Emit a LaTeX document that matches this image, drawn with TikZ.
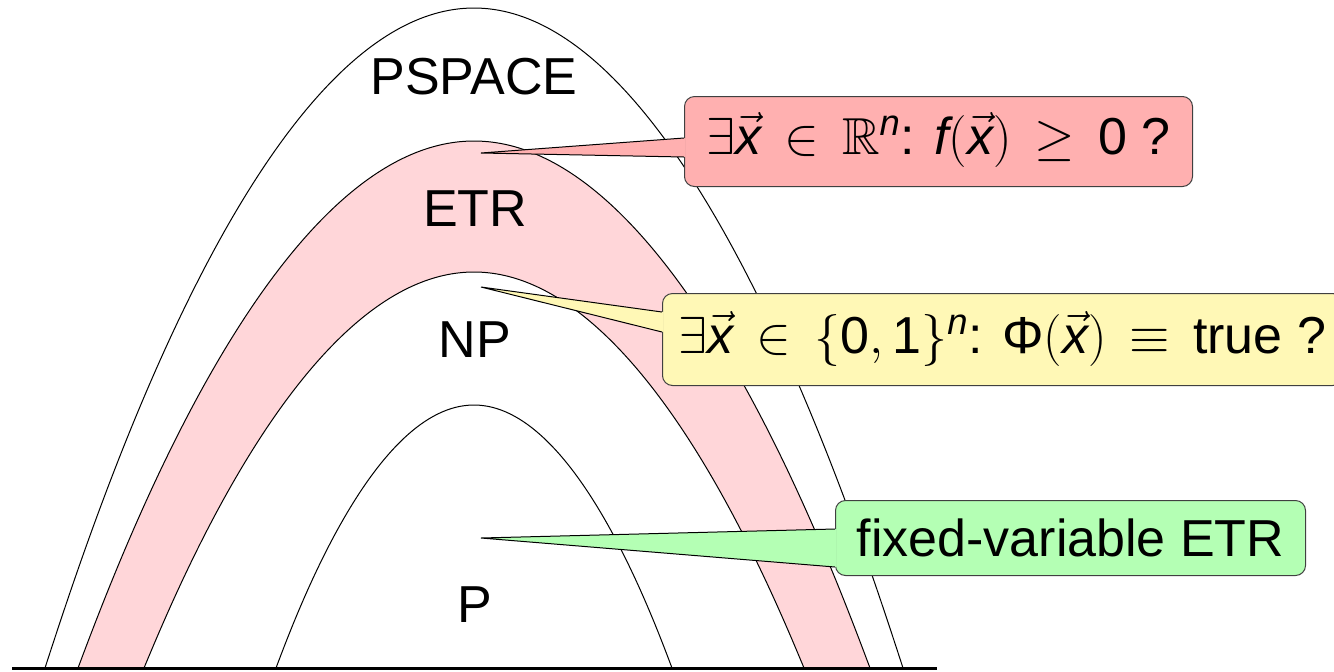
\RequirePackage{fix-cm}
\documentclass[tikz,border=0pt]{standalone}
\usepackage{amsmath,amssymb}
\usepackage{fontspec}
\setmainfont{Liberation Sans}
\setsansfont{Liberation Sans}
\usetikzlibrary{calc}
\definecolor{etrpink}{RGB}{255,214,217}
\definecolor{redbox}{RGB}{255,176,176}
\definecolor{yellowbox}{RGB}{255,248,182}
\definecolor{greenbox}{RGB}{180,255,180}
\begin{document}
\begin{tikzpicture}[x=0.5pt,y=-0.5pt,
  font=\fontsize{26}{31}\selectfont,
  arch/.style={draw=black, line width=0.5pt},
  classlabel/.style={anchor=base, inner sep=0pt},
  callbox/.style={draw=black!75, line width=0.5pt, rounded corners=5pt, inner sep=0pt, anchor=north west, align=center,
    execute at begin node={\thickmuskip=8mu plus 2mu}},
  pointer/.style={draw=black, line width=0.5pt}]
\useasboundingbox (0,0) rectangle (1334,671);
% arches
\draw[arch, fill=white] (45,668) parabola bend (474,8) (903,668);
\draw[arch, fill=etrpink] (78,668) parabola bend (474,141) (870,668);
\draw[arch, fill=white] (144,668) parabola bend (474,272) (804,668);
\draw[arch] (276,668) parabola bend (474,405) (672,668);
% ground line
\coordinate (gl) at (12,668.5);
\coordinate (gr) at (937,668.5);
\draw[line width=1.6pt] (gl) -- (gr);
% class labels
\node[classlabel] (pspace) at (474,94) {PSPACE};
\node[classlabel] (etr) at (475,226) {ETR};
\node[classlabel] (np) at (475,357) {NP};
\node[classlabel] (p) at (475,622) {P};
% callout boxes
\node[callbox, fill=redbox, minimum width=254pt, text height=29pt, text depth=16pt] (red) at (684,96)
  {$\exists\vec{\mathit{x}}\in\mathbb{R}^{\mathit{n}}$: $\mathit{f}(\vec{\mathit{x}})\geq\textrm{0}$ ?};
\node[callbox, fill=yellowbox, minimum width=340pt, text height=30pt, text depth=16pt] (yel) at (662,293)
  {$\exists\vec{\mathit{x}}\in\{\textrm{0},\textrm{1}\}^{\mathit{n}}$: $\textrm{Φ}(\vec{\mathit{x}})\equiv\textrm{true}$ ?};
\node[callbox, fill=greenbox, minimum width=235pt, text height=28pt, text depth=9.5pt] (grn) at (835,500)
  {fixed-variable ETR};
% pointer tips
\coordinate (tipR) at (481,153);
\coordinate (tipY) at (481,287);
\coordinate (tipG) at (481,538);
% pointers
\fill[redbox] (tipR) -- ($(red.north west)+(1.5,42)$) -- ($(red.north west)+(1.5,61)$) -- cycle;
\draw[pointer] ($(red.north west)+(0,42)$) -- (tipR) -- ($(red.north west)+(0,61)$);
\fill[yellowbox] (tipY) -- ($(yel.north west)+(1.5,19)$) -- ($(yel.north west)+(1.5,39)$) -- cycle;
\draw[pointer] ($(yel.north west)+(0,19)$) -- (tipY) -- ($(yel.north west)+(0,39)$);
\fill[greenbox] (tipG) -- ($(grn.north west)+(1.5,29)$) -- ($(grn.north west)+(1.5,67)$) -- cycle;
\draw[pointer] ($(grn.north west)+(0,29)$) -- (tipG) -- ($(grn.north west)+(0,67)$);
\end{tikzpicture}
\end{document}
